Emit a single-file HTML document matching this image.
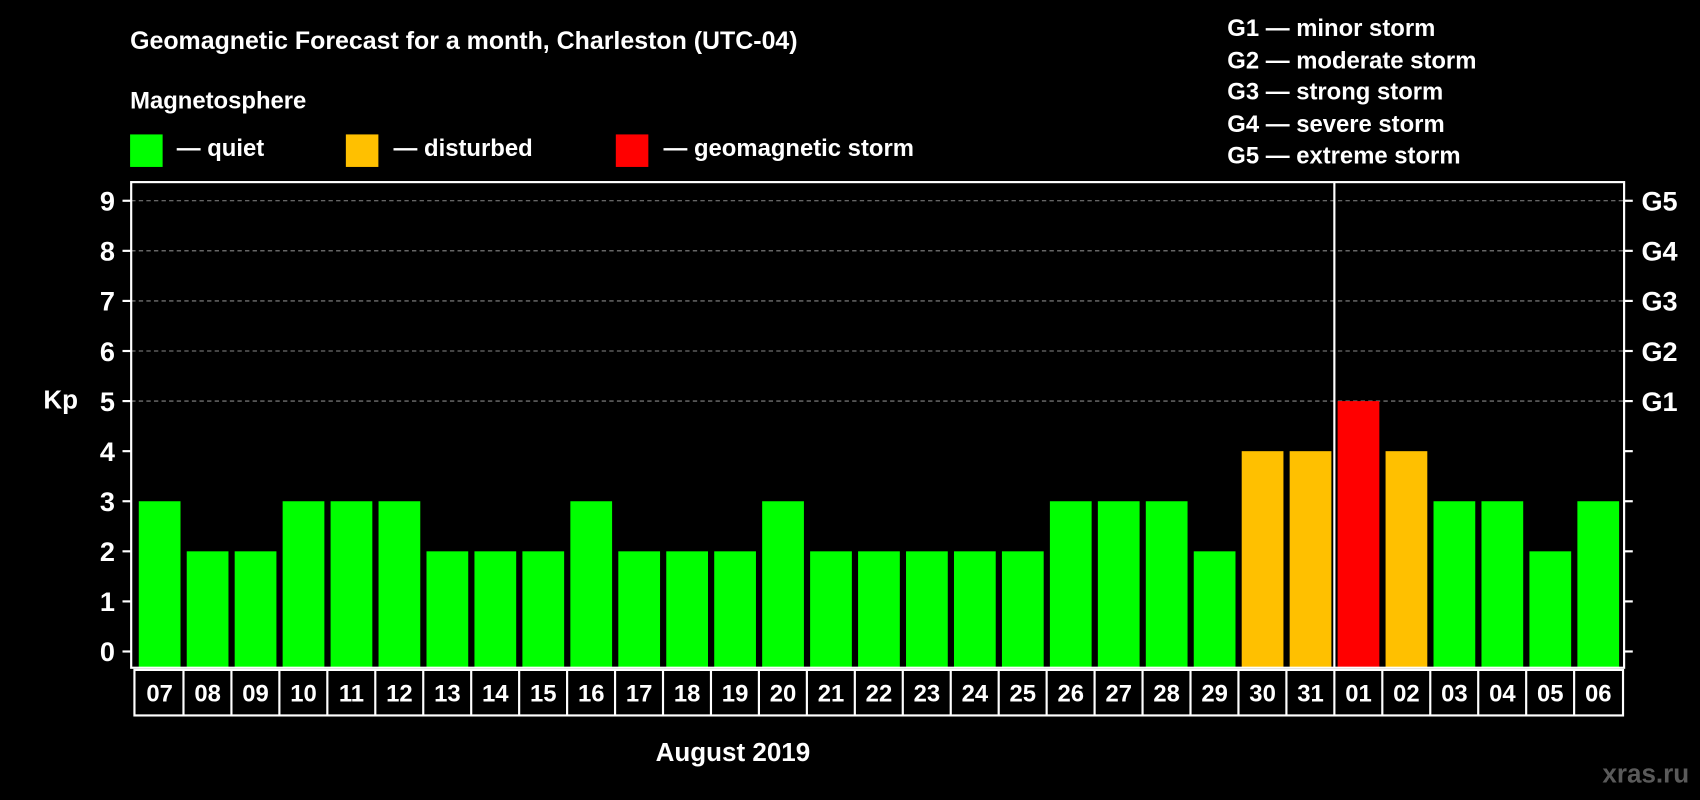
<!DOCTYPE html>
<html><head><meta charset="utf-8"><style>
html,body{margin:0;padding:0;background:#000;}
svg{display:block;font-family:"Liberation Sans",Arial,sans-serif;font-weight:bold;}
</style></head><body>
<svg id="chart" width="1700" height="800" viewBox="0 0 1568 738" preserveAspectRatio="none" xmlns="http://www.w3.org/2000/svg">
<rect width="1568" height="738" fill="#000"/>
<text x="120" y="45" fill="#fff" font-size="23">Geomagnetic Forecast for a month, Charleston (UTC-04)</text>
<text x="120" y="100" fill="#fff" font-size="22">Magnetosphere</text>
<g><rect x="120" y="124" width="30" height="30" fill="#00ff00"/><text x="163" y="144" fill="#fff" font-size="22">— quiet</text></g>
<g><rect x="319" y="124" width="30" height="30" fill="#ffc000"/><text x="363" y="144" fill="#fff" font-size="22">— disturbed</text></g>
<g><rect x="568" y="124" width="30" height="30" fill="#ff0000"/><text x="612" y="144" fill="#fff" font-size="22">— geomagnetic storm</text></g>
<g fill="#fff" font-size="22">
<text x="1132" y="33">G1 — minor storm</text>
<text x="1132" y="63">G2 — moderate storm</text>
<text x="1132" y="92">G3 — strong storm</text>
<text x="1132" y="122">G4 — severe storm</text>
<text x="1132" y="151">G5 — extreme storm</text>
</g>
<text x="40" y="377" fill="#fff" font-size="24">Kp</text>
<text x="676" y="702" fill="#fff" font-size="24" text-anchor="middle">August 2019</text>
<text x="1558" y="722" fill="#5a5a5a" font-size="24" text-anchor="end">xras.ru</text>
<g id="grid"></g><g id="bars"></g><g id="axes"></g>
</svg>
<script>
const days=["07","08","09","10","11","12","13","14","15","16","17","18","19","20","21","22","23","24","25","26","27","28","29","30","31","01","02","03","04","05","06"];
const kp=[3,2,2,3,3,3,2,2,2,3,2,2,2,3,2,2,2,2,2,3,3,3,2,4,4,5,4,3,3,2,3];
const yTicks=[0,1,2,3,4,5,6,7,8,9];
const gLabels=["G1","G2","G3","G4","G5"];
const NS="http://www.w3.org/2000/svg";
const L=121,R=1498,T=168,B=616;
const y=v=>601-v*46.2;
const x=i=>128+i*44.23;
const bw=38.5;
function mk(t,a,p){const e=document.createElementNS(NS,t);for(const k in a)e.setAttribute(k,a[k]);p.appendChild(e);return e;}
const grid=document.getElementById('grid'),bars=document.getElementById('bars'),axes=document.getElementById('axes');
for(let v=5;v<=9;v++){const l=mk('line',{x1:L,x2:R,y1:y(v),y2:y(v),stroke:'#888','stroke-dasharray':'4 3','stroke-width':1},grid);

}
kp.forEach((v,i)=>{const c=v>=5?'#ff0000':v==4?'#ffc000':'#00ff00';
const r=mk('rect',{x:x(i),y:y(v),width:bw,height:B-y(v),fill:c},bars);

});
const fr=mk('rect',{x:L,y:T,width:R-L,height:B-T,fill:'none',stroke:'#fff','stroke-width':2},axes);


const idx=days.indexOf("01");
const ml=mk('line',{x1:x(idx)-3,x2:x(idx)-3,y1:T,y2:B,stroke:'#fff','stroke-width':2},axes);


yTicks.forEach(v=>{mk('line',{x1:113,x2:L,y1:y(v),y2:y(v),stroke:'#fff','stroke-width':2},axes);
mk('line',{x1:R,x2:1506,y1:y(v),y2:y(v),stroke:'#fff','stroke-width':2},axes);
const t=mk('text',{x:106,y:y(v)+9,fill:'#fff','font-size':25,'text-anchor':'end'},axes);t.textContent=v;

});
gLabels.forEach((g,i)=>{const t=mk('text',{x:1514,y:y(5+i)+9,fill:'#fff','font-size':25},axes);t.textContent=g;

});
const lb=mk('rect',{x:124,y:618,width:1373,height:42,fill:'none',stroke:'#fff','stroke-width':2},axes);


days.forEach((d,i)=>{if(i>0)mk('line',{x1:x(i)-3,x2:x(i)-3,y1:618,y2:660,stroke:'#fff','stroke-width':2},axes);
const t=mk('text',{x:x(i)+bw/2,y:647,fill:'#fff','font-size':22,'text-anchor':'middle'},axes);t.textContent=d;

});
</script>
</body></html>
